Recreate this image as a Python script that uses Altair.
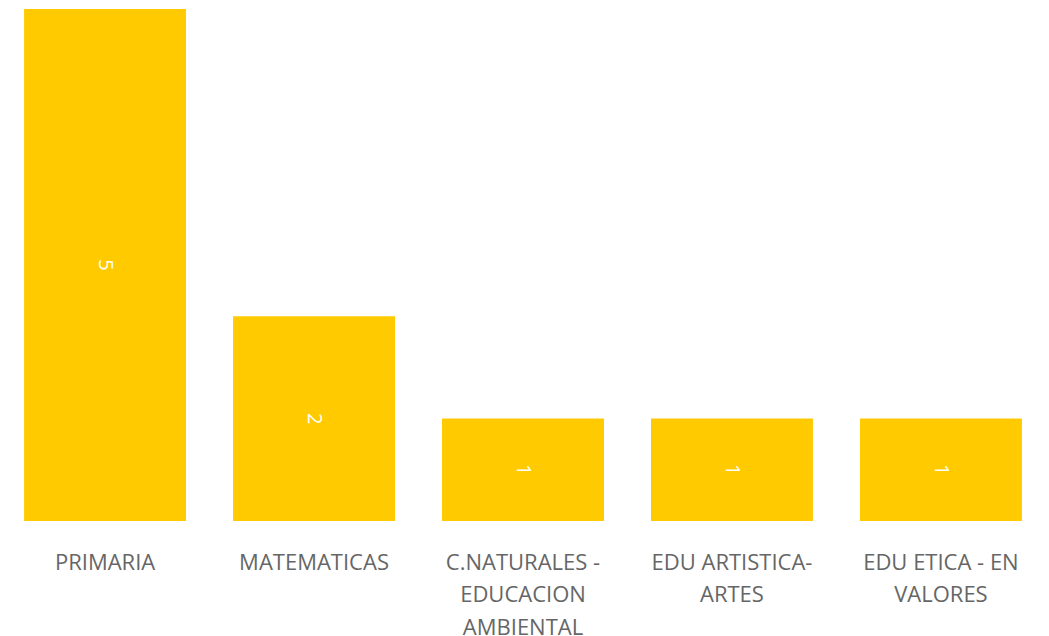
import altair as alt
import pandas as pd

categories = ["PRIMARIA", "MATEMATICAS", "C.NATURALES - EDUCACION AMBIENTAL",
              "EDU ARTISTICA-ARTES", "EDU ETICA - EN VALORES"]
label_lines = ["PRIMARIA", "MATEMATICAS", "C.NATURALES -|EDUCACION|AMBIENTAL",
               "EDU ARTISTICA-|ARTES", "EDU ETICA - EN|VALORES"]
values = [5, 2, 1, 1, 1]

df = pd.DataFrame({"cat": categories, "value": values})
label_map = {c: l for c, l in zip(categories, label_lines)}
expr = "{" + ",".join(f"'{c}':'{l}'" for c, l in label_map.items()) + "}"

font = "Open Sans"
color = "#FFCA00"

x = alt.X("cat:N", sort=None, title=None,
          scale=alt.Scale(paddingInner=0.225, paddingOuter=0.077),
          axis=alt.Axis(domain=False, ticks=False, labelAngle=0, labelPadding=31,
                        labelFont=font, labelFontSize=22, labelColor="#666666",
                        labelLineHeight=32.5, labelBaseline="top",
                        labelExpr="split(" + expr + "[datum.label], '|')"))
y = alt.Y("value:Q", title=None, axis=None, scale=alt.Scale(domain=[0, 5], nice=False))

bars = alt.Chart(df).mark_bar(color=color).encode(x=x, y=y)
text = alt.Chart(df).transform_calculate(mid="datum.value/2").mark_text(
    angle=90, align="center", baseline="middle", color="white",
    font=font, fontSize=20
).encode(x=alt.X("cat:N", sort=None), y=alt.Y("mid:Q"), text="value:Q")

chart = (bars + text).properties(
    width=1030, height=512,
    padding={"left": 0, "right": 0, "top": 1, "bottom": 0}
).configure_view(stroke=None)
chart.save("out.html", embed_options={"renderer": "svg", "actions": False})
